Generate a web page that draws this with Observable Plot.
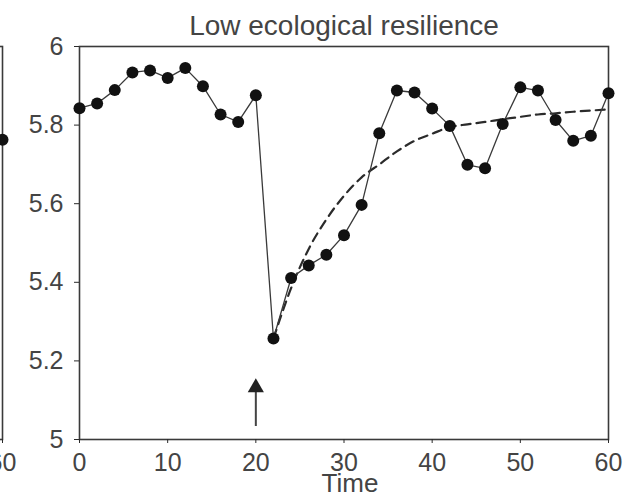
<!DOCTYPE html>
<html>
<head>
<meta charset="utf-8">
<script src="https://cdn.jsdelivr.net/npm/d3@7"></script>
<script src="https://cdn.jsdelivr.net/npm/@observablehq/plot@0.6"></script>
<style>
  html, body { margin: 0; padding: 0; background: #fff; overflow: hidden; }
  #wrap { position: relative; width: 628px; height: 502px; overflow: hidden; }
  #prev { position: absolute; top: 0; left: -78px; }
  #main { position: absolute; top: 0; left: 0; }
</style>
</head>
<body>
<div id="wrap"><div id="prev"></div><div id="main"></div></div>
<script>
// Sampling times and observed state
const times = [0, 2, 4, 6, 8, 10, 12, 14, 16, 18, 20, 22, 24, 26, 28, 30, 32, 34, 36, 38, 40, 42, 44, 46, 48, 50, 52, 54, 56, 58, 60];
const observed = [5.843, 5.855, 5.889, 5.934, 5.939, 5.920, 5.945, 5.899, 5.827, 5.808, 5.876,
                  5.257, 5.411, 5.443, 5.470, 5.520, 5.597, 5.779, 5.888, 5.883, 5.842,
                  5.798, 5.699, 5.690, 5.803, 5.896, 5.888, 5.813, 5.760, 5.773, 5.881];

// Expected recovery trajectory after the disturbance
const recoveryTimes = [22, 24, 26, 28, 30, 32, 34, 36, 38, 40, 42, 44, 46, 48, 50, 52, 54, 56, 58, 60];
const recoveryValues = [5.257, 5.385, 5.485, 5.56, 5.62, 5.667, 5.70, 5.733, 5.76, 5.778,
                        5.795, 5.802, 5.808, 5.815, 5.821, 5.827, 5.830, 5.834, 5.837, 5.840];

// Disturbance marker (arrow) at time 20
const disturbanceTime = [20];
const arrowFrom = [5.033];
const arrowTo = [5.14];

// Last observation of the neighbouring panel
const prevTimes = [60];
const prevValues = [5.763];

const xTicks = [0, 10, 20, 30, 40, 50, 60];
const yTicks = [5, 5.2, 5.4, 5.6, 5.8, 6];
const yTickLabels = ["5", "5.2", "5.4", "5.6", "5.8", "6"];
const title = "Low ecological resilience";
const xLabel = "Time";

const obs = times.map((t, i) => ({time: t, value: observed[i]}));
const rec = recoveryTimes.map((t, i) => ({time: t, value: recoveryValues[i]}));
const arrow = disturbanceTime.map((t, i) => ({time: t, from: arrowFrom[i], to: arrowTo[i]}));
const prev = prevTimes.map((t, i) => ({time: t, value: prevValues[i]}));

const font = "'Liberation Sans', Arial, Helvetica, sans-serif";
const ink = "#2b2b2b";
const textInk = "#444";

const common = {
  height: 502,
  marginTop: 46,
  marginBottom: 63,
  style: {fontFamily: font, fontSize: "25px", color: ink, background: "transparent", overflow: "visible"},
  x: {domain: [0, 60], axis: null},
  y: {domain: [5, 6], axis: null}
};

const main = Plot.plot({
  ...common,
  width: 628,
  marginLeft: 79,
  marginRight: 20,
  marks: [
    Plot.frame({stroke: "#3a3a3a", strokeWidth: 1.6}),
    // y axis: short outward ticks with labels
    Plot.axisY({ticks: yTicks, tickFormat: (d, i) => yTickLabels[i], tickSize: 5, tickPadding: 11, fontSize: 25, stroke: ink, fill: textInk, label: null}),
    // x axis: short outward ticks, labels below
    Plot.axisX({ticks: xTicks, tickSize: 4, tickPadding: 10, fontSize: 25, stroke: ink, fill: textInk, label: null}),
    Plot.text([xLabel], {frameAnchor: "bottom", dx: 6, dy: 44, lineAnchor: "middle", fontSize: 26, fill: textInk}),
    Plot.text([title], {frameAnchor: "top", dy: -12, lineAnchor: "bottom", fontSize: 28, fill: textInk}),
    // expected recovery (dashed)
    Plot.line(rec, {x: "time", y: "value", curve: "monotone-x", stroke: ink, strokeWidth: 2.2, strokeDasharray: "9,6"}),
    // observed series
    Plot.line(obs, {x: "time", y: "value", stroke: "#3a3a3a", strokeWidth: 1.3}),
    Plot.dot(obs, {x: "time", y: "value", r: 6, fill: "#111", stroke: "none"}),
    // disturbance arrow
    Plot.ruleX(arrow, {x: "time", y1: "from", y2: "to", stroke: "#444", strokeWidth: 2}),
    Plot.dot(arrow, {x: "time", y: "to", symbol: "triangle", r: 6, fill: "#222", stroke: "none", dy: 3})
  ]
});
document.getElementById("main").appendChild(main);

// Right edge of the neighbouring panel
const side = Plot.plot({
  ...common,
  width: 100,
  marginLeft: 20,
  marginRight: 20,
  marks: [
    Plot.frame({stroke: "#3a3a3a", strokeWidth: 1.6}),
    Plot.axisX({ticks: [60], tickSize: 4, tickPadding: 10, fontSize: 25, stroke: ink, fill: textInk, label: null}),
    Plot.dot(prev, {x: "time", y: "value", r: 6, fill: "#111", stroke: "none"})
  ]
});
document.getElementById("prev").appendChild(side);
</script>
</body>
</html>
